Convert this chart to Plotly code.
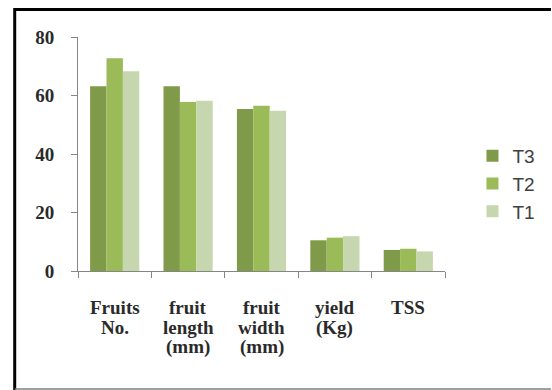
import plotly.graph_objects as go

# Traits measured for each treatment
categories = ["Fruits No.", "fruit length (mm)", "fruit width (mm)", "yield (Kg)", "TSS"]
category_lines = [["Fruits", "No."], ["fruit", "length", "(mm)"], ["fruit", "width", "(mm)"],
                  ["yield", "(Kg)"], ["TSS"]]
t3_values = [63.2, 63.2, 55.4, 10.5, 7.2]
t2_values = [72.7, 57.8, 56.5, 11.4, 7.6]
t1_values = [68.3, 58.2, 54.8, 11.9, 6.7]
y_ticks = [0, 20, 40, 60, 80]

series = [
    ("T3", t3_values, "#7F9A48"),
    ("T2", t2_values, "#9BBB59"),
    ("T1", t1_values, "#C6D6AE"),
]

W, H = 552, 390
L, R, T, B = 78, 100, 37, 119
pw, ph = W - L - R, H - T - B


def px_x(x):
    return (x - L) / pw


def px_y(y):
    return (H - B - y) / ph


fig = go.Figure()
for name, vals, color in series:
    fig.add_trace(go.Bar(
        x=categories, y=vals, name=name,
        marker=dict(color=color, line=dict(width=0)),
    ))

tick_font = dict(family="Liberation Serif", size=19, color="#2a2a2a", weight="bold")

# Category labels, one line per annotation for a tight line pitch
annotations = []
for cat, lines in zip(categories, category_lines):
    for i, line in enumerate(lines):
        annotations.append(dict(
            x=cat, y=0, xref="x", yref="y", text=line, showarrow=False,
            xanchor="center", yanchor="top", yshift=-24 - 19.5 * i,
            font=tick_font,
        ))

fig.update_layout(
    width=W, height=H,
    margin=dict(l=L, r=R, t=T, b=B),
    paper_bgcolor="white", plot_bgcolor="white",
    barmode="group", bargap=0.33, bargroupgap=0,
    annotations=annotations,
    legend=dict(
        x=px_x(480), y=px_y(184), xanchor="left", yanchor="middle",
        font=dict(family="Liberation Sans", size=19, color="#404040"),
        traceorder="normal", tracegroupgap=0, itemwidth=30,
    ),
    xaxis=dict(
        showline=True, linecolor="#868686", linewidth=1,
        ticks="outside", tickson="boundaries", ticklen=6, tickcolor="#868686",
        showticklabels=False, showgrid=False,
    ),
    yaxis=dict(
        range=[0, 80], tickvals=y_ticks,
        showline=True, linecolor="#868686", linewidth=1,
        ticks="outside", ticklen=6, tickcolor="#868686",
        tickfont=tick_font, ticklabelstandoff=13, showgrid=False, zeroline=False,
    ),
    shapes=[
        # frame: heavy top and left edges, thin grey bottom
        dict(type="line", xref="paper", yref="paper",
             x0=px_x(13.5), x1=px_x(560), y0=px_y(9.5), y1=px_y(9.5),
             line=dict(color="black", width=3)),
        dict(type="line", xref="paper", yref="paper",
             x0=px_x(13.5), x1=px_x(13.5), y0=px_y(8), y1=px_y(392),
             line=dict(color="black", width=3)),
        dict(type="line", xref="paper", yref="paper",
             x0=px_x(13.5), x1=px_x(560), y0=px_y(389), y1=px_y(389),
             line=dict(color="#808080", width=1.5)),
    ],
)

fig.write_html("out.html")
